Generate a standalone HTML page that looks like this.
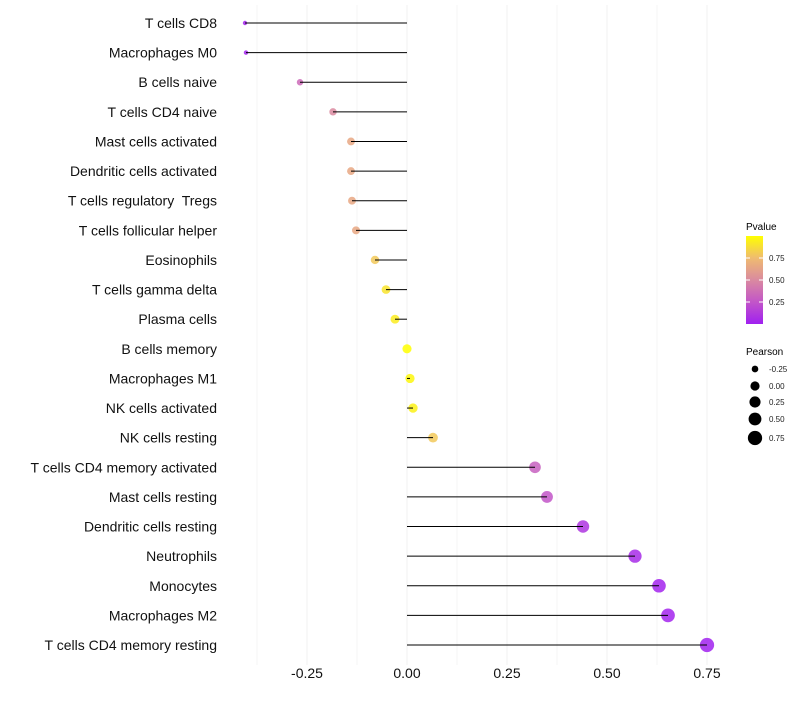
<!DOCTYPE html>
<html><head><meta charset="utf-8"><style>
body{margin:0;background:#fff;font-family:"Liberation Sans",sans-serif}
</style></head><body>
<svg id="chart" width="800" height="700" xmlns="http://www.w3.org/2000/svg">
<defs><linearGradient id="pg" x1="0" y1="1" x2="0" y2="0">
<stop offset="0" stop-color="#a020f0"/><stop offset="0.25" stop-color="#c255c8"/><stop offset="0.5" stop-color="#da8aa0"/><stop offset="0.75" stop-color="#efbb70"/><stop offset="1" stop-color="#ffff00"/></linearGradient></defs>
<g id="grid"></g><g id="marks"></g><g id="axes"></g>
<g>
<text x="746" y="230" font-size="10" fill="#000">Pvalue</text>
<rect x="746" y="236" width="17" height="88" fill="url(#pg)"/>
<g id="cbticks"></g>
</g>
<g>
<text x="746" y="355" font-size="10" fill="#000">Pearson</text>
<g id="sizeleg"></g>
</g>
</svg>
<script>
const categories=["T cells CD8","Macrophages M0","B cells naive","T cells CD4 naive","Mast cells activated","Dendritic cells activated","T cells regulatory  Tregs","T cells follicular helper","Eosinophils","T cells gamma delta","Plasma cells","B cells memory","Macrophages M1","NK cells activated","NK cells resting","T cells CD4 memory activated","Mast cells resting","Dendritic cells resting","Neutrophils","Monocytes","Macrophages M2","T cells CD4 memory resting"];
const pearson=[-0.405,-0.4025,-0.2675,-0.185,-0.14,-0.14,-0.1375,-0.1275,-0.08,-0.0525,-0.03,0,0.0075,0.015,0.065,0.32,0.35,0.44,0.57,0.63,0.6525,0.75];
const pvalue=[0.02,0.02,0.35,0.5,0.65,0.65,0.65,0.65,0.8,0.9,0.93,1.0,0.97,0.95,0.8,0.3,0.25,0.1,0.05,0.02,0.02,0.01];
const xTicks=[-0.25,0,0.25,0.5,0.75];
const xTickLabels=["-0.25","0.00","0.25","0.50","0.75"];
const sizeLegend=[-0.25,0,0.25,0.5,0.75];
const sizeLegendLabels=["-0.25","0.00","0.25","0.50","0.75"];
const cbTicks=[0.25,0.5,0.75];
const cbTickLabels=["0.25","0.50","0.75"];

const NS="http://www.w3.org/2000/svg";
const x=v=>407+v*400;
const y=i=>23+i*(622/21);
const r=p=>Math.sqrt(Math.max(1,21+40*p));
const stops=[[0,[160,32,240]],[0.25,[194,85,200]],[0.5,[218,138,160]],[0.75,[239,187,112]],[1,[255,255,0]]];
function col(p){for(let k=1;k<stops.length;k++){if(p<=stops[k][0]){const a=stops[k-1],b=stops[k],t=(p-a[0])/(b[0]-a[0]);return "rgb("+a[1].map((c,j)=>Math.round(c+(b[1][j]-c)*t)).join(",")+")";}}return "rgb(255,255,0)";}
function mk(tag,attrs,parent){const e=document.createElementNS(NS,tag);for(const k in attrs)e.setAttribute(k,attrs[k]);parent.appendChild(e);return e;}
const grid=document.getElementById('grid'),marks=document.getElementById('marks'),axes=document.getElementById('axes');
for(let k=-3;k<=6;k++){const v=k*0.125;const g=mk('line',{x1:x(v),x2:x(v),y1:5,y2:665,stroke:'#f0f0f0','stroke-width':k%2===0?1:0.6},grid);

}
categories.forEach((c,i)=>{
const pt=mk('circle',{cx:x(pearson[i]),cy:y(i),r:r(pearson[i]),fill:col(pvalue[i]),'fill-opacity':0.85},marks);


const ln=mk('line',{x1:x(0),x2:x(pearson[i]),y1:y(i),y2:y(i),stroke:'#000','stroke-width':1},marks);


const t=mk('text',{x:217,y:y(i)+5,'text-anchor':'end','font-size':14,fill:'#111'},axes);t.textContent=c;
t.setAttribute('xml:space','preserve');t.style.whiteSpace='pre';


});
xTicks.forEach((v,i)=>{const t=mk('text',{x:x(v),y:678,'text-anchor':'middle','font-size':14,fill:'#111'},axes);t.textContent=xTickLabels[i];

});
const cb=document.getElementById('cbticks');
cbTicks.forEach((v,i)=>{const yy=324-v*88;
mk('line',{x1:746,x2:750,y1:yy,y2:yy,stroke:'#fff'},cb);mk('line',{x1:759,x2:763,y1:yy,y2:yy,stroke:'#fff'},cb);
const t=mk('text',{x:769,y:yy+3,'font-size':8,fill:'#222'},cb);t.textContent=cbTickLabels[i];

});
const sl=document.getElementById('sizeleg');const sy=[369,386,402,419,438];
sizeLegend.forEach((v,i)=>{const c=mk('circle',{cx:755,cy:sy[i],r:r(v),fill:'#000'},sl);


const t=mk('text',{x:769,y:sy[i]+3,'font-size':8,fill:'#222'},sl);t.textContent=sizeLegendLabels[i];

});
</script>
</body></html>
